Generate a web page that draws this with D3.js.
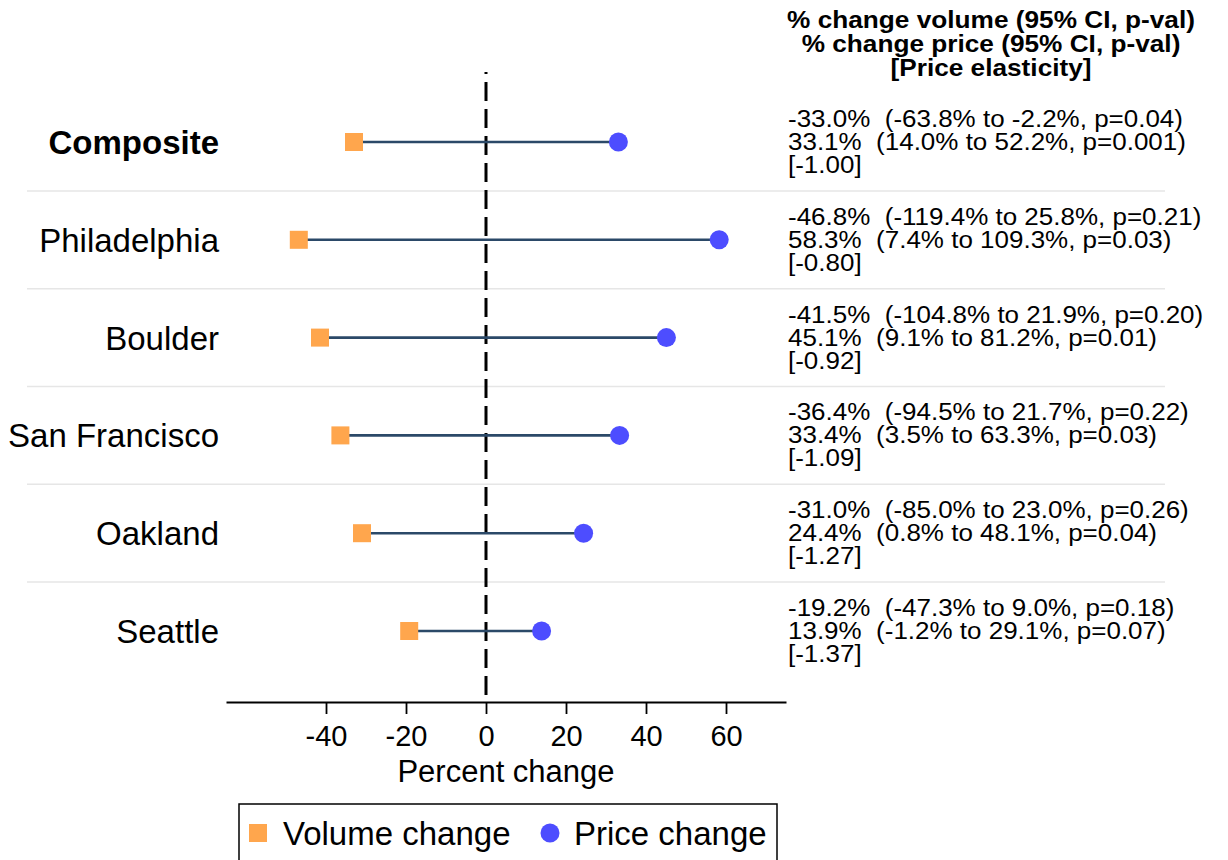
<!DOCTYPE html>
<html>
<head>
<meta charset="utf-8">
<script src="https://cdn.jsdelivr.net/npm/d3@7"></script>
<style>
  html, body { margin: 0; padding: 0; background: #ffffff; }
  svg { display: block; font-family: "Liberation Sans", Arial, Helvetica, sans-serif; }
  .note { white-space: pre; }
</style>
</head>
<body>
<svg id="chart" width="1228" height="860"></svg>
<script>
// City-level estimates: % change in volume and price after the tax
const categories   = ["Composite", "Philadelphia", "Boulder", "San Francisco", "Oakland", "Seattle"];
const volumeChange = [-33.0, -46.8, -41.5, -36.4, -31.0, -19.2];
const volumeLow    = [-63.8, -119.4, -104.8, -94.5, -85.0, -47.3];
const volumeHigh   = [-2.2, 25.8, 21.9, 21.7, 23.0, 9.0];
const volumeP      = ["0.04", "0.21", "0.20", "0.22", "0.26", "0.18"];
const priceChange  = [33.1, 58.3, 45.1, 33.4, 24.4, 13.9];
const priceLow     = [14.0, 7.4, 9.1, 3.5, 0.8, -1.2];
const priceHigh    = [52.2, 109.3, 81.2, 63.3, 48.1, 29.1];
const priceP       = ["0.001", "0.03", "0.01", "0.03", "0.04", "0.07"];
const elasticity   = [-1.00, -0.80, -0.92, -1.09, -1.27, -1.37];
const xTicks       = [-40, -20, 0, 20, 40, 60];
const headerLines  = ["% change volume (95% CI, p-val)", "% change price (95% CI, p-val)", "[Price elasticity]"];
const legendItems  = ["Volume change", "Price change"];

const rows = categories.map((c, i) => ({
  name: c,
  vol: volumeChange[i], volLo: volumeLow[i], volHi: volumeHigh[i], volP: volumeP[i],
  price: priceChange[i], priceLo: priceLow[i], priceHi: priceHigh[i], priceP: priceP[i],
  el: elasticity[i]
}));

const ORANGE = "#ffa64d";
const BLUE = "#4d4dff";
const LINK = "#2b4968";

const svg = d3.select("#chart");

const x = d3.scaleLinear().domain([-65, 75]).range([226, 786]);
const y = d3.scalePoint().domain(categories).range([142, 631]);
const axisY = 702;

// light row separators
const seps = categories.slice(1).map((c, i) => (y(categories[i]) + y(c)) / 2);
svg.append("g").selectAll("line").data(seps).join("line")
  .attr("x1", 27).attr("x2", 1165)
  .attr("y1", d => d).attr("y2", d => d)
  .attr("stroke", "#e6e6e6").attr("stroke-width", 1.5);

// zero reference line
svg.append("line")
  .attr("x1", x(0)).attr("x2", x(0))
  .attr("y1", 72).attr("y2", axisY)
  .attr("stroke", "#000").attr("stroke-width", 3)
  .attr("stroke-dasharray", "19,8").attr("stroke-dashoffset", 17);

// x axis
const axis = svg.append("g")
  .attr("transform", `translate(0,${axisY})`)
  .call(d3.axisBottom(x).tickValues(xTicks).tickSize(12).tickSizeOuter(0).tickPadding(11)
    .tickFormat(d => String(d)));
axis.select(".domain").attr("stroke", "#000").attr("stroke-width", 1.8);
axis.selectAll(".tick line").attr("stroke", "#000").attr("stroke-width", 1.8);
axis.selectAll(".tick text")
  .attr("fill", "#000")
  .style("font-size", "29px")
  .style("font-family", "'Liberation Sans', Arial, sans-serif");

svg.append("text")
  .attr("x", (x.range()[0] + x.range()[1]) / 2).attr("y", 782)
  .attr("text-anchor", "middle")
  .style("font-size", "31px")
  .text("Percent change");

// row labels
svg.append("g").selectAll("text").data(rows).join("text")
  .attr("x", 219).attr("y", d => y(d.name) + 12)
  .attr("text-anchor", "end")
  .style("font-size", "33px")
  .style("font-weight", (d, i) => i === 0 ? "bold" : "normal")
  .text(d => d.name);

// connectors between volume and price estimates
svg.append("g").selectAll("line").data(rows).join("line")
  .attr("x1", d => x(d.vol)).attr("x2", d => x(d.price))
  .attr("y1", d => y(d.name)).attr("y2", d => y(d.name))
  .attr("stroke", LINK).attr("stroke-width", 2.6);

// volume markers (squares)
const sq = 18;
svg.append("g").selectAll("rect").data(rows).join("rect")
  .attr("x", d => x(d.vol) - sq / 2).attr("y", d => y(d.name) - sq / 2)
  .attr("width", sq).attr("height", sq)
  .attr("fill", ORANGE);

// price markers (circles)
svg.append("g").selectAll("circle").data(rows).join("circle")
  .attr("cx", d => x(d.price)).attr("cy", d => y(d.name))
  .attr("r", 9.5)
  .attr("fill", BLUE);

// right-hand annotation column
const header = svg.append("g").attr("transform", "translate(991,0) scale(1.14,1)");
header.selectAll("text").data(headerLines).join("text")
  .attr("x", 0).attr("y", (d, i) => 28 + i * 24)
  .attr("text-anchor", "middle")
  .style("font-size", "23px").style("font-weight", "bold")
  .text(d => d);

const fmt1 = v => v.toFixed(1);
const noteLines = d => [
  `${fmt1(d.vol)}%  (${fmt1(d.volLo)}% to ${fmt1(d.volHi)}%, p=${d.volP})`,
  `${fmt1(d.price)}%  (${fmt1(d.priceLo)}% to ${fmt1(d.priceHi)}%, p=${d.priceP})`,
  `[${d.el.toFixed(2)}]`
];
const notes = svg.append("g").selectAll("g").data(rows).join("g")
  .attr("transform", d => `translate(788,${y(d.name)}) scale(1.13,1)`);
notes.selectAll("text").data(d => noteLines(d)).join("text")
  .attr("class", "note")
  .attr("x", 0).attr("y", (d, i) => -15 + i * 23)
  .style("font-size", "23px")
  .text(d => d);

// legend
const legend = svg.append("g");
legend.append("rect")
  .attr("x", 239).attr("y", 804).attr("width", 538).attr("height", 62)
  .attr("fill", "none").attr("stroke", "#000").attr("stroke-width", 1.5);
legend.append("rect")
  .attr("x", 249).attr("y", 833 - sq / 2).attr("width", sq).attr("height", sq)
  .attr("fill", ORANGE);
legend.append("circle")
  .attr("cx", 550).attr("cy", 833).attr("r", 9.5).attr("fill", BLUE);
legend.selectAll("text.lg").data(legendItems).join("text")
  .attr("class", "lg")
  .attr("x", (d, i) => i === 0 ? 283 : 574).attr("y", 845)
  .style("font-size", "33px")
  .text(d => d);
</script>
</body>
</html>
